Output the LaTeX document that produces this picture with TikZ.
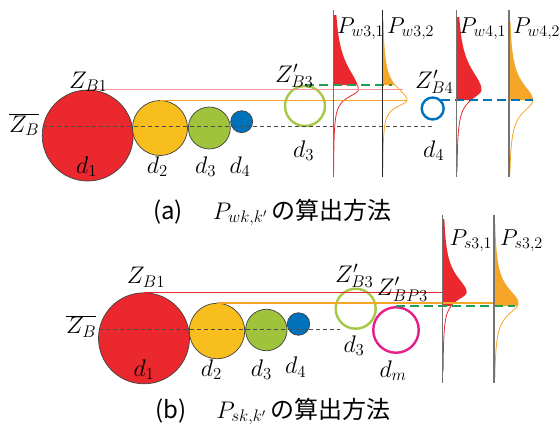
\RequirePackage{fix-cm}
\documentclass[tikz,border=0pt]{standalone}
\usepackage{fontspec}
\newfontfamily\jpfont{Noto Sans CJK JP}
\usetikzlibrary{calc}

\definecolor{dRed}{RGB}{235,40,45}
\definecolor{dYellow}{RGB}{247,190,30}
\definecolor{dGreen}{RGB}{160,195,60}
\definecolor{dBlue}{RGB}{0,114,188}
\definecolor{dOrange}{RGB}{245,165,40}
\definecolor{dPink}{RGB}{245,150,150}
\definecolor{dDash}{RGB}{30,160,80}
\definecolor{dMag}{RGB}{230,30,140}
\definecolor{dRing}{RGB}{165,200,70}

%% distribution: axis x, peak y, height, upper width, lower width, top y, fill-to y, bottom y, colour
\newcommand{\pdist}[9]{%
  \fill[#9] (#1,#6) -- plot[domain=#6:#7, samples=60, variable=\yy]
    ({#1+#3*lor(\yy-#2, #4+(#5-#4)*(\yy>#2))}, \yy) -- (#1,#7) -- cycle;
  \draw[#9, line width=0.8pt] plot[domain=#7:#8, samples=80, variable=\yy]
    ({#1+#3*lor(\yy-#2, #4+(#5-#4)*(\yy>#2))}, \yy);
}

\begin{document}
\begin{tikzpicture}[x=1pt, y=-1pt,
  ball/.style={circle, draw=black!75, line width=0.7pt, inner sep=0pt},
  ring/.style={circle, line width=2.4pt, inner sep=0pt},
  lbl/.style={anchor=base west, inner sep=0pt, font=\fontsize{24}{28}\selectfont},
  plbl/.style={lbl, font=\fontsize{23}{27}\selectfont},
  axisl/.style={black!55, line width=1.3pt},
  level/.style={line width=1.3pt},
  meanline/.style={black!70, line width=0.7pt, dash pattern=on 4pt off 3pt},
  cutline/.style={line width=2.4pt, dash pattern=on 9pt off 5pt},
  declare function={lor(\u,\s)=1/(1+(\u/\s)*(\u/\s));}
]
  \useasboundingbox (0,0) rectangle (560,434);

  %% ===== (a) =====
  %% end points
  \coordinate (endA1) at (403,0);
  \coordinate (endA2) at (407,0);
  \coordinate (endA3) at (392,0);
  \coordinate (endA4) at (533,0);
  \coordinate (endA5) at (431.7,0);
  \coordinate (zA) at (42.7,126.7);
  \coordinate (w31t) at (333.3,10);  \coordinate (w31b) at (333.3,177);
  \coordinate (w32t) at (382.5,10);  \coordinate (w32b) at (382.5,177);
  \coordinate (w41t) at (456.5,10);  \coordinate (w41b) at (456.5,177);
  \coordinate (w42t) at (509,10);    \coordinate (w42b) at (509,177);

  %% distributions
  \pdist{333.3}{90}{25}{28}{9}{15}{85}{172}{dRed}
  \pdist{382.5}{100.3}{24.5}{16}{8}{20}{85}{174}{dOrange}
  \pdist{456.5}{90}{25}{26}{12}{17}{100}{172}{dRed}
  \pdist{509}{100}{24}{20}{15}{22}{100}{174}{dOrange}

  %% particles
  \node[ball, fill=dRed, minimum size=91pt] (a1) at (87.7,135.5) {};
  \node[ball, fill=dYellow, minimum size=55pt] (a2) at (160,128) {};
  \node[ball, fill=dGreen, minimum size=42pt] (a3) at (209.3,128) {};
  \node[ball, fill=dBlue, minimum size=22pt] (a4) at (241.7,121.7) {};
  \node[ring, draw=dRing, minimum size=40pt] (aB3) at (305,106) {};
  \node[ring, draw=dBlue, minimum size=22pt] (aB4) at (432.7,108.5) {};

  %% levels
  \draw[level, dPink] (a1.north) -- (a1.north -| endA1);
  \draw[level, dOrange] (a2.north) -- (a2.north -| endA2);
  \draw[meanline] (zA) -- (zA -| endA5);
  \draw[cutline, dDash] (aB3.north) -- (aB3.north -| endA3);
  \draw[cutline, dBlue] (aB4.north east) -- (aB4.north east -| endA4);

  %% axes
  \draw[axisl] (w31t) -- (w31b);
  \draw[axisl, black!85] (w32t) -- (w32b);
  \draw[axisl] (w41t) -- (w41b);
  \draw[axisl] (w42t) -- (w42b);

  %% labels
  \node[lbl] (lZB1a) at (69,88) {$Z_{B1}$};
  \node[lbl] (lZba) at (9,132) {$\overline{Z_B}$};
  \node[lbl] (ld1a) at (76,173) {$d_1$};
  \node[lbl] (ld2a) at (146.7,173) {$d_2$};
  \node[lbl] (ld3a) at (195,173) {$d_3$};
  \node[lbl] (ld4a) at (229.3,173) {$d_4$};
  \node[lbl] (lZB3a) at (275,82) {$Z'_{B3}$};
  \node[lbl] (lZB4a) at (415,88) {$Z'_{B4}$};
  \node[lbl] (ld3p) at (293,157) {$d_3$};
  \node[lbl] (ld4p) at (423,157) {$d_4$};
  \node[plbl] (lP31) at (337,33) {$P_{w3,1}$};
  \node[plbl] (lP32) at (387,33) {$P_{w3,2}$};
  \node[plbl] (lP41) at (459,33) {$P_{w4,1}$};
  \node[plbl] (lP42) at (513,33) {$P_{w4,2}$};
  \node[lbl] (capA) at (153,219)
    {{\jpfont (a)}\hspace{30pt}$P_{wk,k'}$\,{\jpfont の算出方法}};

  %% ===== (b) =====
  \coordinate (endB3) at (515,0);
  \coordinate (endB5) at (340,0);
  \coordinate (zB) at (98.7,329.7);
  \coordinate (s31t) at (442.7,215); \coordinate (s31b) at (442.7,383);
  \coordinate (s32t) at (494,215);   \coordinate (s32b) at (494,383);

  %% distributions
  \pdist{442.7}{292.5}{24}{20}{10}{219}{306}{372}{dRed}
  \pdist{494}{303}{24.5}{18}{14}{224}{306}{378}{dOrange}

  %% particles
  \node[ball, fill=dRed, minimum size=91pt] (b1) at (144,338.3) {};
  \node[ball, fill=dYellow, minimum size=55.5pt] (b2) at (217,331) {};
  \node[ball, fill=dGreen, minimum size=41.5pt] (b3) at (266.3,330) {};
  \node[ball, fill=dBlue, minimum size=22.5pt] (b4) at (298.5,324) {};
  \node[ring, draw=dRing, minimum size=40pt] (bB3) at (355.7,308.7) {};
  \node[ring, draw=dMag, minimum size=45.5pt] (bm) at (396,330) {};

  %% levels
  \draw[level, dRed] (b1.north) -- (b1.north -| s31t);
  \draw[level, dOrange] (b2.north) -- (b2.north -| s32t);
  \draw[meanline] (zB) -- (zB -| endB5);
  \draw[cutline, dDash] (bm.north) -- (bm.north -| endB3);

  %% axes
  \draw[axisl] (s31t) -- (s31b);
  \draw[axisl] (s32t) -- (s32b);

  %% labels
  \node[lbl] (lZB1b) at (126.7,283.7) {$Z_{B1}$};
  \node[lbl] (lZbb) at (66,333.7) {$\overline{Z_B}$};
  \node[lbl] (ld1b) at (133.3,376) {$d_1$};
  \node[lbl] (ld2b) at (200.7,376) {$d_2$};
  \node[lbl] (ld3b) at (250.7,376) {$d_3$};
  \node[lbl] (ld4b) at (285,373.7) {$d_4$};
  \node[lbl] (lZB3b) at (335,282) {$Z'_{B3}$};
  \node[lbl] (lZBP3) at (376.7,295.3) {$Z'_{BP3}$};
  \node[lbl] (ld3q) at (343.3,352) {$d_3$};
  \node[lbl] (ldm) at (379.3,377) {$d_m$};
  \node[plbl] (lS31) at (449.3,245.3) {$P_{s3,1}$};
  \node[plbl] (lS32) at (500,245) {$P_{s3,2}$};
  \node[lbl] (capB) at (155,418.3)
    {{\jpfont (b)}\hspace{30pt}$P_{sk,k'}$\,{\jpfont の算出方法}};
\end{tikzpicture}
\end{document}
